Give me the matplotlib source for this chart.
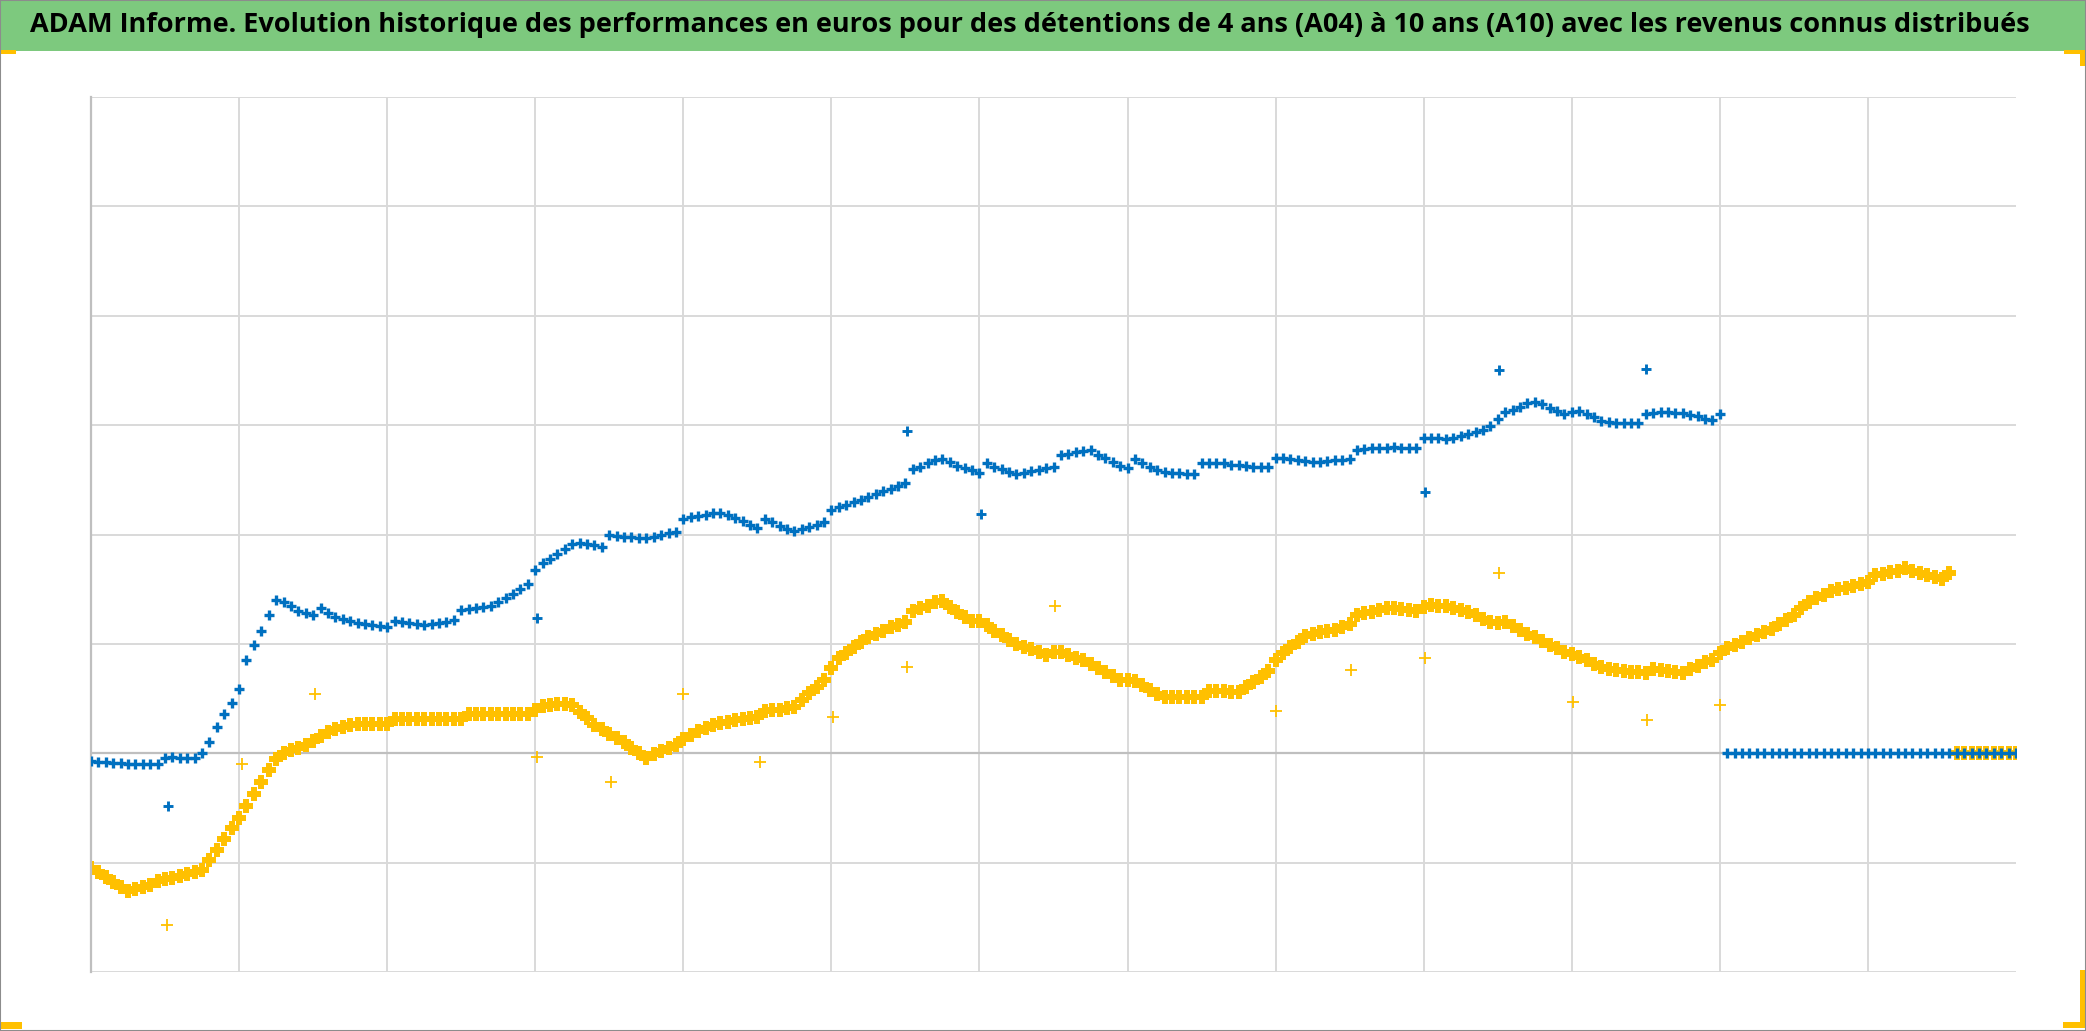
import numpy as np
import matplotlib
matplotlib.use("Agg")
import matplotlib.pyplot as plt
from matplotlib.patches import Rectangle
from matplotlib import font_manager

# ---------------- data ----------------
STEP = 0.05  # spacing of observations along the (unlabelled) time axis, in grid units

a10_main = [
    -1.05, -1.09, -1.13, -1.18, -1.22, -1.26, -1.24, -1.22, -1.20, -1.17,
    -1.15, -1.14, -1.12, -1.10, -1.09, -1.07, -0.98, -0.88, -0.78, -0.68,
    -0.59, -0.48, -0.37, -0.26, -0.15, -0.05, 0.00, 0.03, 0.05, 0.08,
    0.11, 0.16, 0.19, 0.22, 0.24, 0.26, 0.27, 0.27, 0.27, 0.27,
    0.27, 0.31, 0.31, 0.31, 0.31, 0.31, 0.31, 0.31, 0.31, 0.31,
    0.31, 0.36, 0.36, 0.36, 0.36, 0.36, 0.36, 0.36, 0.36, 0.36,
    0.40, 0.43, 0.44, 0.45, 0.45, 0.44, 0.38, 0.32, 0.26, 0.22,
    0.18, 0.14, 0.10, 0.05, 0.00, -0.04, -0.01, 0.02, 0.05, 0.08,
    0.13, 0.17, 0.20, 0.23, 0.26, 0.28, 0.29, 0.30, 0.31, 0.32,
    0.33, 0.39, 0.40, 0.40, 0.41, 0.42, 0.49, 0.55, 0.61, 0.67,
    0.78, 0.87, 0.92, 0.97, 1.02, 1.06, 1.09, 1.12, 1.15, 1.17,
    1.20, 1.30, 1.33, 1.35, 1.38, 1.39, 1.34, 1.29, 1.25, 1.21,
    1.21, 1.17, 1.12, 1.08, 1.04, 1.00, 0.97, 0.95, 0.93, 0.90,
    0.93, 0.93, 0.90, 0.87, 0.85, 0.82, 0.78, 0.74, 0.71, 0.67,
    0.67, 0.66, 0.62, 0.58, 0.54, 0.51, 0.51, 0.51, 0.51, 0.51,
    0.51, 0.57, 0.57, 0.57, 0.56, 0.56, 0.61, 0.65, 0.70, 0.75,
    0.85, 0.92, 0.97, 1.02, 1.07, 1.09, 1.11, 1.12, 1.13, 1.15,
    1.18, 1.26, 1.28, 1.29, 1.31, 1.33, 1.33, 1.32, 1.31, 1.30,
    1.34, 1.36, 1.35, 1.35, 1.33, 1.31, 1.29, 1.26, 1.23, 1.20,
    1.19, 1.20, 1.16, 1.13, 1.09, 1.06, 1.03, 0.99, 0.96, 0.93,
    0.91, 0.88, 0.85, 0.82, 0.79, 0.77, 0.76, 0.75, 0.74, 0.74,
    0.73, 0.77, 0.76, 0.75, 0.74, 0.73, 0.77, 0.80, 0.83, 0.85,
    0.92, 0.96, 0.99, 1.02, 1.05, 1.08, 1.11, 1.14, 1.18, 1.22,
    1.26, 1.33, 1.38, 1.42, 1.45, 1.48, 1.50, 1.51, 1.53, 1.55,
    1.57, 1.63, 1.64, 1.66, 1.67, 1.69, 1.67, 1.65, 1.63, 1.61,
    1.59, 1.65,
]
a10_tail = [0, 0, 0, 0, 0, 0, 0, 0, 0]

a04_main = [
    -0.07, -0.08, -0.08, -0.09, -0.09, -0.10, -0.10, -0.10, -0.10, -0.10,
    -0.04, -0.03, -0.04, -0.04, -0.04, 0.00, 0.10, 0.24, 0.36, 0.46,
    0.59, 0.85, 0.99, 1.12, 1.26, 1.40, 1.38, 1.35, 1.30, 1.28,
    1.26, 1.33, 1.28, 1.25, 1.23, 1.21, 1.19, 1.18, 1.17, 1.16,
    1.15, 1.21, 1.20, 1.19, 1.18, 1.17, 1.18, 1.19, 1.20, 1.22,
    1.31, 1.32, 1.33, 1.34, 1.35, 1.38, 1.42, 1.46, 1.50, 1.55,
    1.68, 1.74, 1.78, 1.82, 1.87, 1.91, 1.92, 1.91, 1.90, 1.89,
    2.00, 1.99, 1.98, 1.98, 1.97, 1.97, 1.98, 2.00, 2.01, 2.02,
    2.14, 2.16, 2.17, 2.18, 2.20, 2.20, 2.18, 2.15, 2.12, 2.09,
    2.06, 2.14, 2.11, 2.08, 2.05, 2.03, 2.05, 2.07, 2.09, 2.11,
    2.22, 2.25, 2.27, 2.30, 2.32, 2.34, 2.37, 2.40, 2.42, 2.44,
    2.47, 2.60, 2.62, 2.65, 2.68, 2.69, 2.66, 2.63, 2.61, 2.59,
    2.56, 2.65, 2.62, 2.60, 2.57, 2.55, 2.56, 2.58, 2.59, 2.61,
    2.62, 2.73, 2.74, 2.75, 2.76, 2.77, 2.73, 2.70, 2.66, 2.63,
    2.61, 2.69, 2.65, 2.62, 2.59, 2.57, 2.56, 2.56, 2.55, 2.55,
    2.65, 2.65, 2.65, 2.65, 2.64, 2.64, 2.63, 2.62, 2.62, 2.62,
    2.70, 2.70, 2.69, 2.68, 2.67, 2.66, 2.66, 2.67, 2.68, 2.68,
    2.69, 2.77, 2.78, 2.79, 2.79, 2.79, 2.80, 2.79, 2.79, 2.79,
    2.88, 2.88, 2.88, 2.87, 2.88, 2.90, 2.92, 2.94, 2.96, 2.99,
    3.06, 3.12, 3.14, 3.17, 3.20, 3.21, 3.19, 3.16, 3.13, 3.10,
    3.12, 3.13, 3.10, 3.07, 3.04, 3.03, 3.02, 3.02, 3.02, 3.02,
    3.10, 3.11, 3.12, 3.12, 3.11, 3.11, 3.09, 3.08, 3.06, 3.05,
    3.10,
]
a04_tail = [0] * 40

a04_out_x = [0.52, 3.01, 5.51, 6.01, 9.01, 9.51, 10.50]
a04_out_y = [-0.48, 1.24, 2.95, 2.19, 2.39, 3.50, 3.51]
a10_out_x = [0.51, 1.02, 1.51, 3.01, 3.51, 4.00, 4.52, 5.01, 5.51, 6.51,
             8.00, 8.51, 9.01, 9.51, 10.01, 10.51, 11.00]
a10_out_y = [-1.57, -0.10, 0.54, -0.03, -0.26, 0.54, -0.08, 0.33, 0.79, 1.35,
             0.39, 0.76, 0.87, 1.65, 0.47, 0.30, 0.44]

TITLE = ("ADAM Informe. Evolution historique des performances en euros pour des "
         "détentions de 4 ans (A04) à 10 ans (A10) avec les revenus connus distribués")

BLUE = "#0070C0"
GOLD = "#FFC000"
GREEN = "#7DC97E"

# ---------------- figure ----------------
W, H = 2086, 1031
fig = plt.figure(figsize=(W / 100, H / 100), dpi=100)
fig.patch.set_facecolor("white")

def fx(px):
    return px / W

def fy(py):
    return 1 - py / H

# green title band
fig.add_artist(Rectangle((0, fy(51)), 1, 51 / H, transform=fig.transFigure,
                         facecolor=GREEN, edgecolor="none", zorder=0))

# title text (fit to width)
avail = [f.name for f in font_manager.fontManager.ttflist]
fam = "Liberation Sans Narrow" if "Liberation Sans Narrow" in avail else "Open Sans"
title = fig.text(fx(30), fy(25), TITLE, ha="left", va="center", fontsize=26,
                 fontweight="bold", family=[fam, "DejaVu Sans"], color="black")
fig.canvas.draw()
bb = title.get_window_extent()
title.set_fontsize(26 * 2008 / bb.width)

# axes
L, R, T, B = 91, 2016, 97, 972
ax = fig.add_axes([fx(L), fy(B), (R - L) / W, (B - T) / H])
ax.set_xlim(0, 13)
ax.set_ylim(-2, 6)
for s in ["top", "right", "bottom"]:
    ax.spines[s].set_visible(False)
ax.spines["left"].set_color("#BFBFBF")
ax.spines["left"].set_linewidth(1.6)
ax.set_xticks([])
ax.set_yticks([])
for xv in range(1, 13):
    ax.axvline(xv, color="#D9D9D9", lw=1.4, zorder=0)
for yv in range(-2, 7):
    if yv == 0:
        ax.axhline(yv, color="#BFBFBF", lw=1.6, zorder=0.5)
    else:
        ax.axhline(yv, color="#D9D9D9", lw=1.4, zorder=0)

# series
x10 = np.arange(len(a10_main)) * STEP
x10t = (len(a10_main) + np.arange(len(a10_tail))) * STEP
x04 = np.arange(len(a04_main)) * STEP
x04t = (len(a04_main) + np.arange(len(a04_tail))) * STEP

ax.plot(x10, a10_main, ls="none", marker="+", ms=10.5, mew=4.3, color=GOLD, zorder=2)
ax.plot(x10t, a10_tail, ls="none", marker="+", ms=10.5, mew=4.3, color=GOLD, zorder=2)
ax.plot(a10_out_x, a10_out_y, ls="none", marker="+", ms=8, mew=1.3, color=GOLD, zorder=2)

ax.plot(x04, a04_main, ls="none", marker="+", ms=7.5, mew=2.4, color=BLUE, zorder=3)
ax.plot(x04t, a04_tail, ls="none", marker="+", ms=7.5, mew=2.4, color=BLUE, zorder=3)
ax.plot(a04_out_x, a04_out_y, ls="none", marker="+", ms=7.5, mew=2.1, color=BLUE, zorder=3)

# corner marks
def rect(x0, y0, x1, y1, color):
    fig.add_artist(Rectangle((fx(x0), fy(y1)), (x1 - x0) / W, (y1 - y0) / H,
                             transform=fig.transFigure, facecolor=color,
                             edgecolor="none", zorder=5))

rect(0, 50, 16, 54, GOLD)
rect(2064, 50, 2085, 54, GOLD)
rect(2080, 50, 2085, 66, GOLD)
rect(0, 1022, 22, 1029, GOLD)
rect(2063, 1022, 2085, 1028, GOLD)
rect(2080, 970, 2085, 1028, GOLD)

# outer frame
fig.add_artist(Rectangle((0, 0), 1, 1, transform=fig.transFigure, facecolor="none",
                         edgecolor="#8C8C8C", lw=1.5, zorder=6))

fig.savefig("out.png", dpi=100)
